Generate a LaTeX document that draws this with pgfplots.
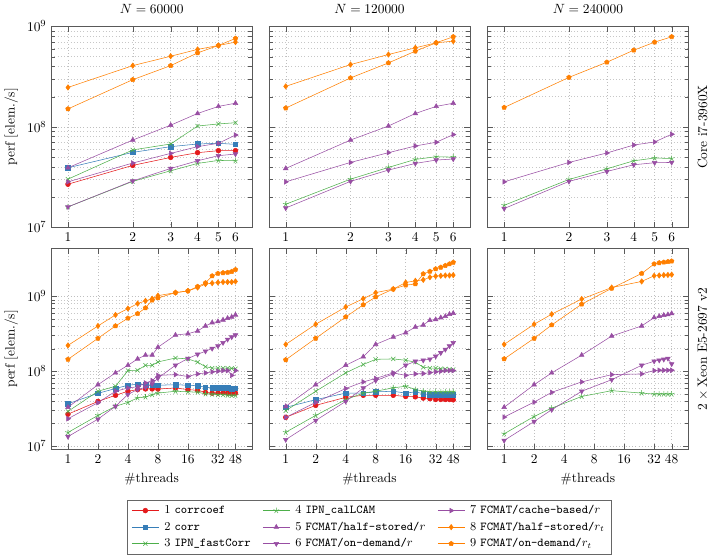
\documentclass[border=0pt]{standalone}
\usepackage{pgfplots}
\usepackage{pgfplotstable}
\pgfplotsset{compat=1.18}
\definecolor{cr}{HTML}{E41A1C}
\definecolor{cb}{HTML}{377EB8}
\definecolor{cg}{HTML}{4DAF4A}
\definecolor{cp}{HTML}{984EA3}
\definecolor{co}{HTML}{FF7F00}
\tikzset{
  serA/.style={color=cr, mark=*, mark size=1.8pt},
  serB/.style={color=cb, mark=square*, mark size=1.7pt},
  serC/.style={color=cg, mark=x, mark size=2.2pt},
  serD/.style={color=cg, mark=star, mark size=2.2pt},
  serE/.style={color=cp, mark=triangle*, mark size=2.0pt},
  serF/.style={color=cp, mark=triangle*, mark size=2.0pt, mark options={rotate=180}},
  serG/.style={color=cp, mark=triangle*, mark size=2.0pt, mark options={rotate=-90}},
  serH/.style={color=co, mark=diamond*, mark size=2.0pt},
  serI/.style={color=co, mark=pentagon*, mark size=1.8pt},
}
\pgfplotsset{
  mygridax/.style={scale only axis, width=150pt, height=150pt,
    enlargelimits=false, clip mode=individual,
    xmajorgrids, ymajorgrids, yminorgrids, xminorticks=false,
    major grid style={dotted, black!25, line width=0.3pt},
    minor grid style={dotted, black!22, line width=0.3pt},
    axis line style={black!65}, tick style={black!65},
    ytick={1e7,1e8,1e9}},
  mytoprow/.style={mygridax, ymin=1e7, ymax=1e9, xmin=0.8359, xmax=7.178,
    xtick={1,2,3,4,5,6}, xticklabels={1,2,3,4,5,6}},
  mybotrow/.style={mygridax, ymin=9e6, ymax=4.35e9, xmin=0.679, xmax=70.7,
    xtick={1,2,4,8,16,32,48}, xticklabels={1,2,4,8,16,32,48},
    xlabel={\#threads}},
}
\pgfplotstableread{
x s1 s2 s3 s4 s5 s6 s7 s8 s9
1 2.69e7 3.92e7 3.02e7 1.6e7 3.92e7 1.6e7 2.84e7 2.47e8 1.51e8
2 4.14e7 5.58e7 5.9e7 2.87e7 7.4e7 2.9e7 4.37e7 4.07e8 2.95e8
3 4.97e7 6.36e7 6.76e7 3.66e7 1.04e8 3.86e7 5.45e7 5.05e8 4.07e8
4 5.54e7 6.76e7 1.02e8 4.33e7 1.36e8 4.6e7 6.36e7 5.9e8 5.45e8
5 5.8e7 6.87e7 1.07e8 4.64e7 1.6e8 5.17e7 6.87e7 6.46e8 6.46e8
6 5.8e7 6.7e7 1.1e8 4.6e7 1.72e8 5.37e7 8.3e7 6.97e8 7.59e8
}\TL
\pgfplotstableread{
x s4 s5 s6 s7 s8 s9
1 1.7e7 3.86e7 1.56e7 2.84e7 2.53e8 1.54e8
2 3.02e7 7.4e7 2.87e7 4.43e7 4.17e8 3.07e8
3 3.95e7 1.02e8 3.72e7 5.54e7 5.25e8 4.33e8
4 4.75e7 1.36e8 4.33e7 6.46e7 6.12e8 5.67e8
5 5.05e7 1.6e8 4.68e7 7.03e7 6.87e8 6.87e8
6 5.0e7 1.72e8 4.79e7 8.38e7 7.13e8 7.88e8
}\TM
\pgfplotstableread{
x s4 s6 s7 s9
1 1.66e7 1.54e7 2.84e7 1.56e8
2 3.0e7 2.87e7 4.43e7 3.11e8
3 3.83e7 3.6e7 5.5e7 4.4e8
4 4.6e7 4.2e7 6.6e7 5.8e8
5 4.9e7 4.4e7 7.08e7 6.97e8
6 4.85e7 4.43e7 8.45e7 7.88e8
}\TR
\pgfplotstableread{
x s1 s2 s3 s4 s5 s6 s7 s8 s9
1 2.67e7 3.68e7 2.9e7 1.52e7 3.3e7 1.34e7 2.32e7 2.21e8 1.44e8
2 3.95e7 5.07e7 5.4e7 2.57e7 6.6e7 2.29e7 3.8e7 4.02e8 2.75e8
3 4.77e7 5.87e7 6.3e7 3.4e7 9.5e7 3.4e7 5.4e7 5.65e8 4.02e8
4 5.4e7 6.5e7 1.02e8 3.84e7 1.2e8 4.9e7 5.97e7 6.86e8 5.1e8
5 5.68e7 6.7e7 1.03e8 4.4e7 1.46e8 5.7e7 6.2e7 8.0e8 5.87e8
6 5.8e7 6.6e7 1.2e8 4.52e7 1.64e8 6.1e7 6.97e7 8.7e8 7.0e8
7 5.8e7 6.5e7 1.2e8 4.87e7 1.64e8 6.76e7 7.5e7 9.3e8 8.9e8
8 5.78e7 6.5e7 1.33e8 5.1e7 2.09e8 8.1e7 8.8e7 1.02e9 9.5e8
12 5.97e7 6.6e7 1.5e8 5.4e7 3.04e8 1.2e8 9.0e7 1.12e9 1.12e9
16 5.68e7 6.5e7 1.46e8 5.3e7 3.17e8 1.48e8 8.5e7 1.18e9 1.18e9
20 5.56e7 6.4e7 1.32e8 5.25e7 3.44e8 1.68e8 9.2e7 1.31e9 1.35e9
24 5.22e7 6.1e7 1.15e8 4.97e7 4.02e8 1.85e8 9.5e7 1.46e9 1.51e9
28 5.1e7 6.0e7 1.1e8 4.95e7 4.45e8 2.01e8 9.8e7 1.5e9 1.87e9
32 5.1e7 6.0e7 1.1e8 4.87e7 4.6e8 2.17e8 1.0e8 1.53e9 2.02e9
36 5.15e7 6.0e7 1.1e8 4.87e7 4.84e8 2.4e8 1.02e8 1.55e9 2.06e9
40 5.1e7 6.0e7 1.1e8 4.77e7 5.1e8 2.66e8 1.02e8 1.55e9 2.08e9
44 5.0e7 5.8e7 1.09e8 4.75e7 5.3e8 2.86e8 8.8e7 1.55e9 2.14e9
48 5.1e7 5.9e7 1.08e8 4.75e7 5.65e8 3.04e8 1.02e8 1.58e9 2.27e9
}\BL
\pgfplotstableread{
x s1 s2 s3 s4 s5 s6 s7 s8 s9
1 2.42e7 3.29e7 2.97e7 1.53e7 3.39e7 1.22e7 2.42e7 2.28e8 1.42e8
2 3.5e7 4.17e7 5.4e7 2.57e7 6.6e7 2.2e7 3.84e7 4.24e8 2.75e8
4 4.48e7 5.1e7 9.5e7 4.17e7 1.2e8 3.95e7 5.87e7 7.2e8 5.3e8
6 4.77e7 5.1e7 1.23e8 5.1e7 1.56e8 5.97e7 7.2e7 9.3e8 7.7e8
8 4.77e7 5.3e7 1.44e8 5.4e7 2.28e8 7.5e7 8.0e7 1.12e9 9.8e8
12 4.77e7 5.4e7 1.46e8 6.0e7 2.86e8 9.2e7 9.5e7 1.25e9 1.25e9
16 4.6e7 5.1e7 1.4e8 6.3e7 3.27e8 1.2e8 8.8e7 1.53e9 1.41e9
20 4.55e7 5.3e7 1.32e8 5.7e7 3.89e8 1.36e8 9.2e7 1.61e9 1.46e9
24 4.38e7 5.0e7 1.13e8 5.4e7 4.14e8 1.4e8 9.3e7 1.66e9 1.99e9
28 4.3e7 4.87e7 1.1e8 5.3e7 4.79e8 1.45e8 9.6e7 1.8e9 2.15e9
32 4.2e7 4.87e7 1.1e8 5.3e7 4.9e8 1.58e8 9.8e7 1.86e9 2.32e9
36 4.2e7 4.87e7 1.08e8 5.3e7 5.19e8 1.76e8 1.0e8 1.88e9 2.44e9
40 4.2e7 4.87e7 1.07e8 5.3e7 5.4e8 1.95e8 1.02e8 1.9e9 2.57e9
44 4.2e7 4.87e7 1.06e8 5.3e7 5.77e8 2.17e8 1.02e8 1.9e9 2.7e9
48 4.15e7 4.87e7 1.05e8 5.3e7 5.95e8 2.4e8 1.02e8 1.92e9 2.84e9
}\BM
\pgfplotstableread{
x s4 s5 s6 s7 s8 s9
1 1.46e7 3.3e7 1.19e7 2.44e7 2.28e8 1.46e8
2 2.49e7 6.6e7 2.13e7 3.87e7 4.24e8 2.75e8
3 3.21e7 9.5e7 3.06e7 5.22e7 5.77e8 4.14e8
6 4.6e7 1.64e8 5.4e7 7.2e7 9.2e8 7.85e8
12 5.5e7 2.95e8 7.7e7 9.0e7 1.31e9 1.28e9
24 5.1e7 4.02e8 1.2e8 9.2e7 1.58e9 2.02e9
32 4.95e7 5.2e8 1.36e8 1.02e8 1.88e9 2.7e9
36 4.95e7 5.4e8 1.4e8 1.03e8 1.9e9 2.8e9
40 4.95e7 5.6e8 1.44e8 1.03e8 1.92e9 2.85e9
44 4.95e7 5.7e8 1.48e8 1.03e8 1.93e9 2.9e9
48 4.95e7 5.9e8 1.25e8 1.03e8 1.95e9 2.95e9
}\BR
\begin{document}
\begin{tikzpicture}
% top row
\begin{loglogaxis}[mytoprow, at={(37.5pt,-20.25pt)}, anchor=north west,
  title={$N = 60000$}, ylabel={perf [elem./s]}]
\addplot[serA] table[x=x,y=s1]{\TL};
\addplot[serB] table[x=x,y=s2]{\TL};
\addplot[serC] table[x=x,y=s3]{\TL};
\addplot[serD] table[x=x,y=s4]{\TL};
\addplot[serE] table[x=x,y=s5]{\TL};
\addplot[serF] table[x=x,y=s6]{\TL};
\addplot[serG] table[x=x,y=s7]{\TL};
\addplot[serH] table[x=x,y=s8]{\TL};
\addplot[serI] table[x=x,y=s9]{\TL};
\end{loglogaxis}
\begin{loglogaxis}[mytoprow, at={(200pt,-20.25pt)}, anchor=north west,
  title={$N = 120000$}, yticklabels={}]
\addplot[serD] table[x=x,y=s4]{\TM};
\addplot[serE] table[x=x,y=s5]{\TM};
\addplot[serF] table[x=x,y=s6]{\TM};
\addplot[serG] table[x=x,y=s7]{\TM};
\addplot[serH] table[x=x,y=s8]{\TM};
\addplot[serI] table[x=x,y=s9]{\TM};
\end{loglogaxis}
\begin{loglogaxis}[mytoprow, at={(363pt,-20.25pt)}, anchor=north west,
  title={$N = 240000$}, yticklabels={}]
\addplot[serD] table[x=x,y=s4]{\TR};
\addplot[serF] table[x=x,y=s6]{\TR};
\addplot[serG] table[x=x,y=s7]{\TR};
\addplot[serI] table[x=x,y=s9]{\TR};
\node[rotate=90, anchor=north, inner sep=0pt] at (axis description cs:1.045,0.5) {Core i7-3960X};
\end{loglogaxis}
% bottom row
\begin{loglogaxis}[mybotrow, at={(37.5pt,-186pt)}, anchor=north west,
  ylabel={perf [elem./s]}]
\addplot[serA] table[x=x,y=s1]{\BL};
\addplot[serB] table[x=x,y=s2]{\BL};
\addplot[serC] table[x=x,y=s3]{\BL};
\addplot[serD] table[x=x,y=s4]{\BL};
\addplot[serE] table[x=x,y=s5]{\BL};
\addplot[serF] table[x=x,y=s6]{\BL};
\addplot[serG] table[x=x,y=s7]{\BL};
\addplot[serH] table[x=x,y=s8]{\BL};
\addplot[serI] table[x=x,y=s9]{\BL};
\end{loglogaxis}
\begin{loglogaxis}[mybotrow, at={(200pt,-186pt)}, anchor=north west,
  yticklabels={},
  legend image code/.code={\draw[mark repeat=2,mark phase=2] plot coordinates {(0cm,0cm) (0.35cm,0cm) (0.7cm,0cm)};},
  legend style={at={(0.5,-0.25)}, anchor=north, draw=black!60, font=\small,
    legend columns=3, row sep=0.6pt,
    /tikz/every odd column/.append style={column sep=2pt},
    /tikz/every even column/.append style={column sep=7pt}},
  transpose legend, legend cell align=left]
\addplot[serA] table[x=x,y=s1]{\BM};
\addlegendentry{1 \texttt{corrcoef}}
\addplot[serB] table[x=x,y=s2]{\BM};
\addlegendentry{2 \texttt{corr}}
\addplot[serC] table[x=x,y=s3]{\BM};
\addlegendentry{3 \texttt{IPN\_fastCorr}}
\addplot[serD] table[x=x,y=s4]{\BM};
\addlegendentry{4 \texttt{IPN\_calLCAM}}
\addplot[serE] table[x=x,y=s5]{\BM};
\addlegendentry{5 \texttt{FCMAT/half-stored/}$r$}
\addplot[serF] table[x=x,y=s6]{\BM};
\addlegendentry{6 \texttt{FCMAT/on-demand/}$r$}
\addplot[serG] table[x=x,y=s7]{\BM};
\addlegendentry{7 \texttt{FCMAT/cache-based/}$r$}
\addplot[serH] table[x=x,y=s8]{\BM};
\addlegendentry{8 \texttt{FCMAT/half-stored/}$r_t$}
\addplot[serI] table[x=x,y=s9]{\BM};
\addlegendentry{9 \texttt{FCMAT/on-demand/}$r_t$}
\end{loglogaxis}
\begin{loglogaxis}[mybotrow, at={(363pt,-186pt)}, anchor=north west,
  yticklabels={}]
\addplot[serD] table[x=x,y=s4]{\BR};
\addplot[serE] table[x=x,y=s5]{\BR};
\addplot[serF] table[x=x,y=s6]{\BR};
\addplot[serG] table[x=x,y=s7]{\BR};
\addplot[serH] table[x=x,y=s8]{\BR};
\addplot[serI] table[x=x,y=s9]{\BR};
\node[rotate=90, anchor=north, inner sep=0pt] at (axis description cs:1.045,0.5) {$2\times{}$Xeon E5-2697 v2};
\end{loglogaxis}
\end{tikzpicture}
\end{document}
